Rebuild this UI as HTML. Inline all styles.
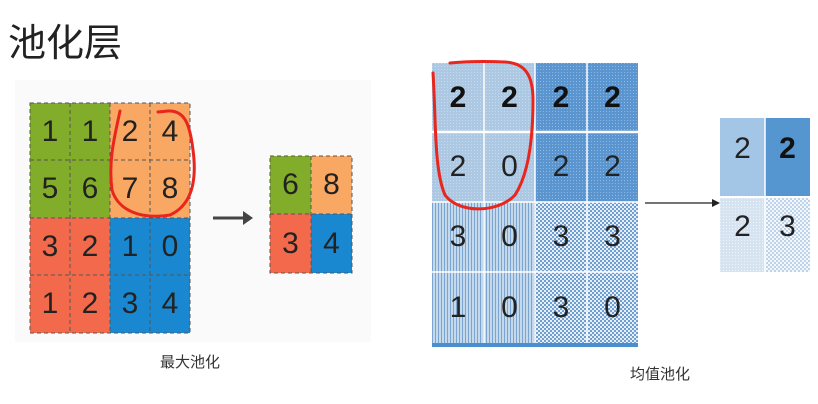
<!DOCTYPE html>
<html><head><meta charset="utf-8"><style>
body{margin:0;width:818px;height:404px;background:#fff;position:relative;overflow:hidden;font-family:"Liberation Sans","Noto Sans CJK SC",sans-serif}
.t{position:absolute;white-space:nowrap}
.c{position:absolute;display:flex;align-items:center;justify-content:center;font-size:30px;color:#222;box-sizing:border-box}
</style></head><body>
<div class="t" style="left:8px;top:12px;font-size:38px;color:#222">池化层</div>
<div style="position:absolute;left:15px;top:80px;width:356px;height:262px;background:#fafafa"></div>
<svg width="818" height="404" style="position:absolute;left:0;top:0">
<defs>
<pattern id="dots" width="3" height="3" patternUnits="userSpaceOnUse"><rect width="3" height="3" fill="#5a95cf"/><rect width="1" height="1" fill="#8fb8e0"/></pattern>
<pattern id="vl" width="3" height="3" patternUnits="userSpaceOnUse"><rect width="3" height="3" fill="#c5d9ec"/><rect width="1" height="3" fill="#7aa5d0"/></pattern>
<pattern id="ck" width="4" height="4" patternUnits="userSpaceOnUse"><rect width="4" height="4" fill="#e6eff8"/><rect width="2" height="2" fill="#6f9fd0"/><rect x="2" y="2" width="2" height="2" fill="#6f9fd0"/></pattern>
<pattern id="ck2" width="4" height="4" patternUnits="userSpaceOnUse"><rect width="4" height="4" fill="#f3f7fb"/><rect width="2" height="2" fill="#bcd3ea"/><rect x="2" y="2" width="2" height="2" fill="#bcd3ea"/></pattern>
<pattern id="ld" width="3" height="3" patternUnits="userSpaceOnUse"><rect width="3" height="3" fill="#adc8e2"/><rect width="1" height="1" fill="#c8dbee"/></pattern>
<pattern id="ld2" width="3" height="3" patternUnits="userSpaceOnUse"><rect width="3" height="3" fill="#d6e3f1"/><rect width="1" height="1" fill="#eef3f9"/></pattern>
</defs>
<!-- max pooling grid -->
<rect x="30" y="103" width="80" height="115" fill="#82ad2b"/>
<rect x="110" y="103" width="80" height="115" fill="#f8a862"/>
<rect x="30" y="218" width="80" height="115" fill="#f26a4b"/>
<rect x="110" y="218" width="80" height="115" fill="#1a88d0"/>
<g stroke="#555" stroke-dasharray="4,3" fill="none" stroke-width="1">
<rect x="30" y="103" width="160" height="230"/>
<line x1="70" y1="103" x2="70" y2="333"/><line x1="110" y1="103" x2="110" y2="333"/><line x1="150" y1="103" x2="150" y2="333"/>
<line x1="30" y1="160" x2="190" y2="160"/><line x1="30" y1="218" x2="190" y2="218"/><line x1="30" y1="275" x2="190" y2="275"/>
</g>
<rect x="270" y="156" width="41" height="58" fill="#82ad2b"/>
<rect x="311" y="156" width="41" height="58" fill="#f8a862"/>
<rect x="270" y="214" width="41" height="59" fill="#f26a4b"/>
<rect x="311" y="214" width="41" height="59" fill="#1a88d0"/>
<g stroke="#555" stroke-dasharray="4,3" fill="none"><rect x="270" y="156" width="82" height="117"/><line x1="311" y1="156" x2="311" y2="273"/><line x1="270" y1="214" x2="352" y2="214"/></g>
<line x1="213" y1="218" x2="245" y2="218" stroke="#444" stroke-width="3"/>
<polygon points="243,211 253,218 243,225" fill="#444"/>
<!-- avg pooling grid -->
<rect x="432" y="63" width="103" height="139" fill="url(#ld)"/>
<rect x="535" y="63" width="103" height="139" fill="url(#dots)"/>
<rect x="432" y="202" width="103" height="141" fill="url(#vl)"/>
<rect x="535" y="202" width="103" height="141" fill="url(#ck)"/>
<rect x="432" y="343" width="206" height="4" fill="#4a8fd0"/>
<g stroke="#fff" stroke-width="1.5"><line x1="484" y1="63" x2="484" y2="343"/><line x1="535" y1="63" x2="535" y2="343"/><line x1="587" y1="63" x2="587" y2="343"/>
<line x1="432" y1="132" x2="638" y2="132" stroke-width="2.5"/><line x1="432" y1="202" x2="638" y2="202"/><line x1="432" y1="272" x2="638" y2="272"/></g>
<rect x="720" y="118" width="45" height="79" fill="#a3c5e6"/>
<rect x="765" y="118" width="45" height="79" fill="#5595d0"/>
<rect x="720" y="197" width="45" height="75" fill="url(#ld2)"/>
<rect x="765" y="197" width="45" height="75" fill="url(#ck2)"/>
<line x1="720" y1="197" x2="810" y2="197" stroke="#fff" stroke-width="2"/><line x1="765" y1="118" x2="765" y2="272" stroke="#fff" stroke-width="1.5"/>
<line x1="645" y1="203" x2="713" y2="203" stroke="#222" stroke-width="1.2"/>
<polygon points="712,199 720,203 712,207" fill="#222"/>
<!-- red marks -->
<path d="M120,111 C115,135 108,160 112,190 C118,210 140,220 170,215 C192,205 197,180 193,150 C190,125 185,110 168,111 L158,112" stroke="#e8261e" stroke-width="3" fill="none" stroke-linecap="round"/>
<path d="M433,73 C436,120 434,170 445,195 C460,215 500,212 515,195 C528,175 533,140 533,100 C533,75 525,63 505,62 C480,61 460,62 450,63" stroke="#e8261e" stroke-width="3" fill="none" stroke-linecap="round"/>
</svg>
<!-- numbers max -->
<div class="c" style="left:30px;top:103px;width:40px;height:57px">1</div>
<div class="c" style="left:70px;top:103px;width:40px;height:57px">1</div>
<div class="c" style="left:110px;top:103px;width:40px;height:57px">2</div>
<div class="c" style="left:150px;top:103px;width:40px;height:57px">4</div>
<div class="c" style="left:30px;top:160px;width:40px;height:58px">5</div>
<div class="c" style="left:70px;top:160px;width:40px;height:58px">6</div>
<div class="c" style="left:110px;top:160px;width:40px;height:58px">7</div>
<div class="c" style="left:150px;top:160px;width:40px;height:58px">8</div>
<div class="c" style="left:30px;top:218px;width:40px;height:57px">3</div>
<div class="c" style="left:70px;top:218px;width:40px;height:57px">2</div>
<div class="c" style="left:110px;top:218px;width:40px;height:57px">1</div>
<div class="c" style="left:150px;top:218px;width:40px;height:57px">0</div>
<div class="c" style="left:30px;top:275px;width:40px;height:58px">1</div>
<div class="c" style="left:70px;top:275px;width:40px;height:58px">2</div>
<div class="c" style="left:110px;top:275px;width:40px;height:58px">3</div>
<div class="c" style="left:150px;top:275px;width:40px;height:58px">4</div>
<div class="c" style="left:270px;top:156px;width:41px;height:58px">6</div>
<div class="c" style="left:311px;top:156px;width:41px;height:58px">8</div>
<div class="c" style="left:270px;top:214px;width:41px;height:59px">3</div>
<div class="c" style="left:311px;top:214px;width:41px;height:59px">4</div>
<!-- numbers avg -->
<div class="c" style="left:432px;top:63px;width:52px;height:69px;font-weight:bold;color:#111">2</div>
<div class="c" style="left:484px;top:63px;width:51px;height:69px;font-weight:bold;color:#111">2</div>
<div class="c" style="left:535px;top:63px;width:52px;height:69px;font-weight:bold;color:#111">2</div>
<div class="c" style="left:587px;top:63px;width:51px;height:69px;font-weight:bold;color:#111">2</div>
<div class="c" style="left:432px;top:132px;width:52px;height:70px">2</div>
<div class="c" style="left:484px;top:132px;width:51px;height:70px">0</div>
<div class="c" style="left:535px;top:132px;width:52px;height:70px">2</div>
<div class="c" style="left:587px;top:132px;width:51px;height:70px">2</div>
<div class="c" style="left:432px;top:202px;width:52px;height:70px">3</div>
<div class="c" style="left:484px;top:202px;width:51px;height:70px">0</div>
<div class="c" style="left:535px;top:202px;width:52px;height:70px">3</div>
<div class="c" style="left:587px;top:202px;width:51px;height:70px">3</div>
<div class="c" style="left:432px;top:272px;width:52px;height:71px">1</div>
<div class="c" style="left:484px;top:272px;width:51px;height:71px">0</div>
<div class="c" style="left:535px;top:272px;width:52px;height:71px">3</div>
<div class="c" style="left:587px;top:272px;width:51px;height:71px">0</div>
<div class="c" style="left:720px;top:118px;width:45px;height:62px">2</div>
<div class="c" style="left:765px;top:118px;width:45px;height:62px;font-weight:bold;color:#111">2</div>
<div class="c" style="left:720px;top:197px;width:45px;height:60px">2</div>
<div class="c" style="left:765px;top:197px;width:45px;height:60px">3</div>
<div class="t" style="left:160px;top:351px;font-size:15px;color:#333">最大池化</div>
<div class="t" style="left:630px;top:363px;font-size:15px;color:#333">均值池化</div>
</body></html>
